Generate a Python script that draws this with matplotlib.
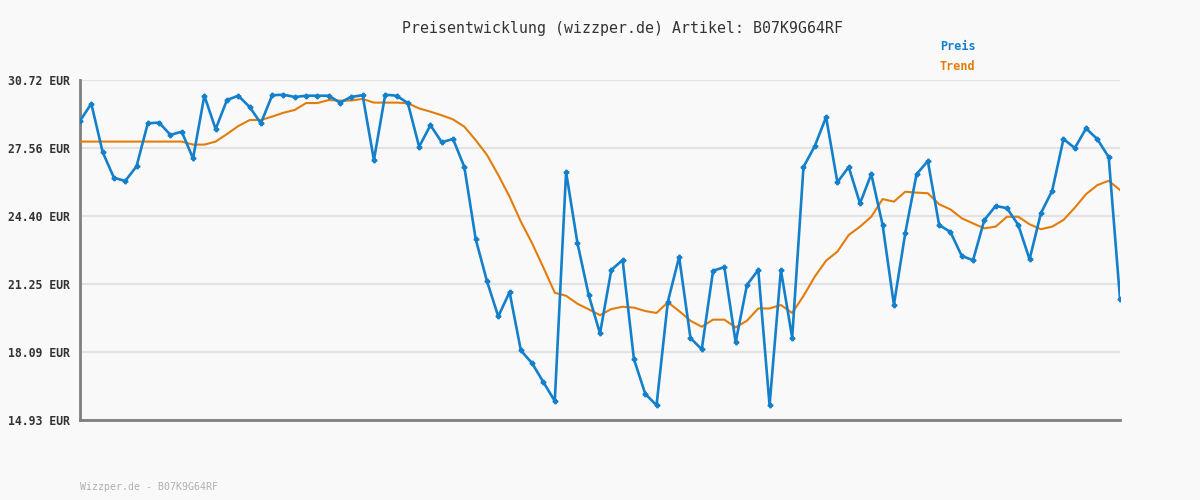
import matplotlib
matplotlib.use("Agg")
import matplotlib.pyplot as plt
import numpy as np

# Preisdaten
preis = [28.82, 29.62, 27.38, 26.18, 26.03, 26.71, 28.71, 28.74, 28.17, 28.32,
         27.08, 29.99, 28.44, 29.79, 29.99, 29.47, 28.71, 30.01, 30.04, 29.93,
         29.99, 29.99, 29.99, 29.67, 29.94, 30.01, 27.00, 30.04, 29.99, 29.65,
         27.62, 28.62, 27.83, 27.98, 26.68, 23.34, 21.38, 19.74, 20.87, 18.16,
         17.56, 16.68, 15.81, 26.45, 23.16, 20.73, 18.95, 21.90, 22.36, 17.76,
         16.15, 15.61, 20.42, 22.50, 18.74, 18.21, 21.86, 22.03, 18.54, 21.20,
         21.90, 15.61, 21.90, 18.75, 26.68, 27.65, 29.00, 25.97, 26.68, 24.99,
         26.35, 23.99, 20.28, 23.60, 26.34, 26.96, 23.99, 23.66, 22.55, 22.35,
         24.22, 24.87, 24.77, 23.99, 22.39, 24.53, 25.58, 27.98, 27.56, 28.47,
         27.97, 27.14, 20.56]

trend = [27.86, 27.86, 27.86, 27.86, 27.86, 27.86, 27.86, 27.86, 27.86, 27.86,
         27.72, 27.72, 27.86, 28.21, 28.58, 28.86, 28.86, 29.02, 29.20, 29.33,
         29.65, 29.65, 29.79, 29.76, 29.77, 29.84, 29.67, 29.67, 29.67, 29.64,
         29.40, 29.25, 29.08, 28.89, 28.55, 27.93, 27.24, 26.31, 25.30, 24.14,
         23.13, 22.00, 20.84, 20.70, 20.33, 20.07, 19.80, 20.08, 20.19, 20.15,
         19.99, 19.90, 20.40, 19.99, 19.54, 19.26, 19.59, 19.59, 19.23, 19.54,
         20.11, 20.11, 20.27, 19.90, 20.69, 21.59, 22.33, 22.75, 23.52, 23.91,
         24.37, 25.19, 25.07, 25.53, 25.49, 25.46, 24.95, 24.71, 24.30, 24.06,
         23.83, 23.91, 24.37, 24.37, 24.02, 23.79, 23.91, 24.22, 24.79, 25.42,
         25.84, 26.04, 25.61]

yticks = [14.93, 18.09, 21.25, 24.40, 27.56, 30.72]
ytick_labels = ["14.93 EUR", "18.09 EUR", "21.25 EUR", "24.40 EUR", "27.56 EUR", "30.72 EUR"]

blau = "#1480cc"
orange = "#e27d0c"
mono = "DejaVu Sans Mono"

fig = plt.figure(figsize=(12, 5), dpi=100, facecolor="#f9f9f9")
ax = fig.add_axes([80/1200, 80/500, 1040/1200, 340/500])
ax.set_facecolor("#f9f9f9")

x = np.arange(len(preis))
ax.plot(x, trend, color=orange, lw=1.5, zorder=3)
ax.plot(x, preis, color=blau, lw=1.9, marker="P", markersize=3.2, zorder=4)

ax.set_xlim(0, len(preis) - 1)
ax.set_ylim(yticks[0], yticks[-1])
ax.set_xticks([])
ax.set_yticks(yticks)
ax.set_yticklabels(ytick_labels, family=mono, weight="bold", size=8.3, color="#333333")
ax.tick_params(axis="y", length=0, pad=7)
ax.grid(axis="y", color="#e3e3e3", lw=1.6, zorder=0)

# Rahmen
for s in ["top", "right"]:
    ax.spines[s].set_visible(False)
for s in ["left", "bottom"]:
    ax.spines[s].set_color("#7f7f7f")
    ax.spines[s].set_linewidth(2)

fig.text(623/1200, 1 - 28/500, "Preisentwicklung (wizzper.de) Artikel: B07K9G64RF",
         ha="center", va="center", family=mono, size=10.7, color="#333333")
fig.text(940/1200, 1 - 46/500, "Preis", ha="left", va="center",
         family=mono, weight="bold", size=8.5, color=blau)
fig.text(940/1200, 1 - 67/500, "Trend", ha="left", va="center",
         family=mono, weight="bold", size=8.5, color=orange)
fig.text(80/1200, 1 - 487/500, "Wizzper.de - B07K9G64RF", ha="left", va="center",
         family=mono, size=7.1, color="#b0b0b0")

fig.savefig("out.png", dpi=100, facecolor=fig.get_facecolor())
